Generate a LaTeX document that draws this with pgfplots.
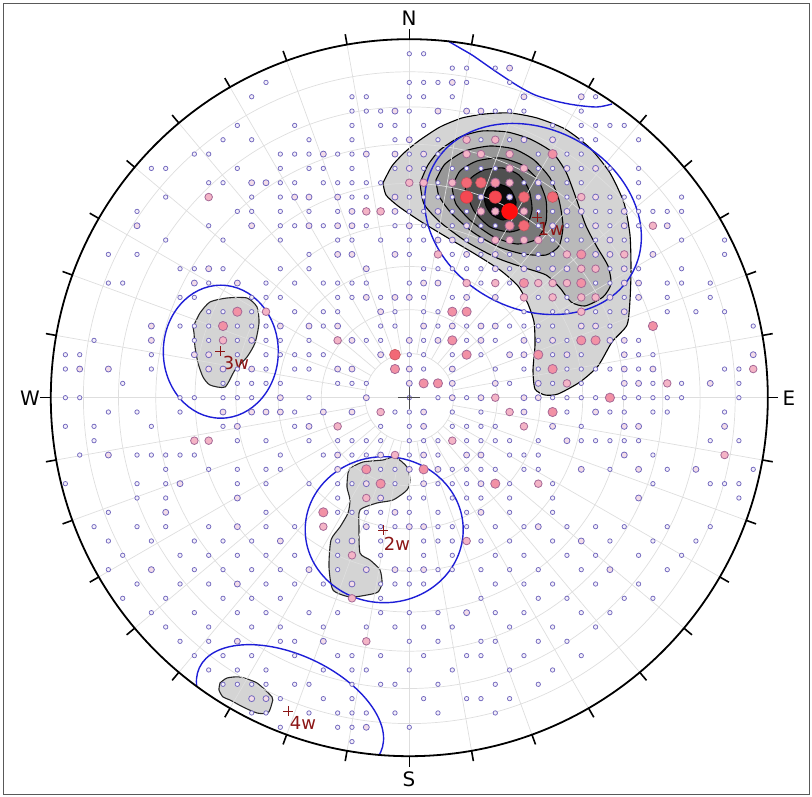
\documentclass[border=0pt]{standalone}
\usepackage{pgfplots}
\pgfplotsset{compat=1.18}
\usepackage{pgfplotstable}
\usepackage{fontspec}
\setmainfont{DejaVu Sans}
\definecolor{pedge}{RGB}{115,105,190}
\definecolor{pedge2}{RGB}{165,105,150}
\definecolor{pf1}{RGB}{244,240,250}
\definecolor{pf2}{RGB}{243,220,232}
\definecolor{pf3}{RGB}{244,180,198}
\definecolor{pf4}{RGB}{242,145,165}
\definecolor{pf5}{RGB}{242,105,118}
\definecolor{pf6}{RGB}{245,72,82}
\definecolor{pf7}{RGB}{255,15,15}
\definecolor{gridc}{RGB}{222,222,222}
\definecolor{winblue}{RGB}{30,30,215}
\definecolor{setred}{RGB}{140,22,22}
\definecolor{c1}{RGB}{212,212,212}
\definecolor{c2}{RGB}{186,186,186}
\definecolor{c3}{RGB}{152,152,152}
\definecolor{c4}{RGB}{120,120,120}
\definecolor{c5}{RGB}{80,80,80}
\definecolor{c6}{RGB}{12,12,12}

\pgfplotstableread[row sep=\\]{
i j s\\
0 -24 1\\ 1 -24 1\\
3 -23 1\\ 4 -23 1\\ 6 -23 1\\ 7 -23 2\\
-10 -22 1\\ 0 -22 1\\ 1 -22 1\\ 2 -22 1\\ 3 -22 2\\ 4 -22 1\\ 7 -22 1\\
-11 -21 1\\ -4 -21 1\\ -3 -21 1\\ 0 -21 1\\ 1 -21 1\\ 3 -21 1\\ 8 -21 2\\ 12 -21 2\\ 13 -21 1\\
-4 -20 1\\ -3 -20 1\\ -2 -20 1\\ -1 -20 2\\ 0 -20 1\\ 2 -20 2\\ 4 -20 2\\ 5 -20 2\\ 6 -20 1\\ 7 -20 1\\ 8 -20 1\\ 12 -20 1\\
-12 -19 1\\ -8 -19 1\\ -4 -19 1\\ -2 -19 1\\ -1 -19 1\\ 1 -19 1\\ 10 -19 1\\ 12 -19 1\\ 13 -19 1\\ 14 -19 1\\ 15 -19 1\\
-13 -18 1\\ -11 -18 1\\ -7 -18 1\\ -4 -18 1\\ -1 -18 1\\ 0 -18 2\\ 2 -18 1\\ 4 -18 3\\ 5 -18 1\\ 6 -18 3\\ 7 -18 1\\ 8 -18 2\\ 10 -18 2\\ 12 -18 1\\ 13 -18 1\\ 16 -18 1\\
-15 -17 1\\ -14 -17 1\\ -9 -17 1\\ -8 -17 1\\ -7 -17 1\\ -6 -17 2\\ -5 -17 1\\ -4 -17 1\\ -3 -17 2\\ -1 -17 2\\ 0 -17 1\\ 1 -17 2\\ 2 -17 1\\ 4 -17 3\\ 5 -17 3\\ 7 -17 3\\ 9 -17 1\\ 10 -17 4\\ 11 -17 1\\ 12 -17 1\\
-18 -16 1\\ -17 -16 1\\ -12 -16 1\\ -9 -16 1\\ -7 -16 1\\ -6 -16 1\\ -4 -16 1\\ -1 -16 1\\ 0 -16 2\\ 1 -16 1\\ 2 -16 1\\ 3 -16 1\\ 4 -16 1\\ 5 -16 1\\ 6 -16 1\\ 7 -16 3\\ 8 -16 3\\ 9 -16 1\\ 10 -16 1\\ 11 -16 2\\ 12 -16 1\\ 13 -16 2\\ 14 -16 1\\ 16 -16 1\\
-14 -15 1\\ -13 -15 1\\ -11 -15 2\\ -10 -15 2\\ -9 -15 1\\ -8 -15 1\\ -6 -15 1\\ -5 -15 1\\ -4 -15 1\\ -3 -15 1\\ -2 -15 1\\ 0 -15 3\\ 1 -15 3\\ 2 -15 1\\ 3 -15 3\\ 4 -15 5\\ 5 -15 5\\ 6 -15 4\\ 7 -15 3\\ 8 -15 1\\ 9 -15 2\\ 10 -15 1\\ 11 -15 1\\ 12 -15 1\\ 16 -15 1\\
-17 -14 1\\ -14 -14 3\\ -11 -14 1\\ -9 -14 1\\ -8 -14 2\\ -7 -14 2\\ -5 -14 2\\ -4 -14 1\\ -3 -14 1\\ -1 -14 2\\ 0 -14 1\\ 1 -14 1\\ 2 -14 1\\ 3 -14 1\\ 4 -14 6\\ 5 -14 2\\ 6 -14 6\\ 7 -14 2\\ 8 -14 5\\ 9 -14 2\\ 10 -14 5\\ 11 -14 1\\ 12 -14 3\\ 13 -14 2\\ 14 -14 1\\ 15 -14 1\\ 16 -14 1\\ 19 -14 1\\
-19 -13 1\\ -12 -13 1\\ -11 -13 1\\ -9 -13 1\\ -7 -13 1\\ -5 -13 1\\ -4 -13 2\\ -3 -13 3\\ -2 -13 3\\ -1 -13 2\\ 0 -13 1\\ 1 -13 1\\ 2 -13 2\\ 3 -13 1\\ 4 -13 1\\ 5 -13 3\\ 6 -13 3\\ 8 -13 3\\ 9 -13 1\\ 10 -13 1\\ 11 -13 2\\ 12 -13 2\\ 13 -13 1\\ 14 -13 1\\ 15 -13 2\\ 16 -13 1\\ 17 -13 1\\ 18 -13 1\\ 19 -13 1\\
-19 -12 2\\ -14 -12 1\\ -11 -12 2\\ -9 -12 1\\ -8 -12 1\\ -7 -12 2\\ -6 -12 1\\ -5 -12 2\\ -4 -12 2\\ -3 -12 1\\ -1 -12 1\\ 0 -12 2\\ 1 -12 1\\ 2 -12 1\\ 3 -12 1\\ 4 -12 2\\ 5 -12 1\\ 6 -12 1\\ 7 -12 4\\ 8 -12 5\\ 9 -12 1\\ 10 -12 2\\ 11 -12 1\\ 12 -12 1\\ 13 -12 2\\ 14 -12 1\\ 15 -12 2\\ 16 -12 1\\ 17 -12 3\\ 18 -12 2\\
-17 -11 1\\ -13 -11 1\\ -9 -11 1\\ -5 -11 1\\ -4 -11 1\\ -2 -11 1\\ 0 -11 1\\ 1 -11 1\\ 2 -11 2\\ 3 -11 2\\ 4 -11 1\\ 5 -11 2\\ 6 -11 3\\ 7 -11 3\\ 8 -11 3\\ 9 -11 3\\ 10 -11 1\\ 11 -11 1\\ 12 -11 1\\ 13 -11 1\\ 14 -11 2\\ 15 -11 1\\ 19 -11 1\\ 22 -11 1\\
-21 -10 1\\ -19 -10 1\\ -7 -10 1\\ -5 -10 2\\ -4 -10 2\\ -1 -10 2\\ 0 -10 1\\ 2 -10 3\\ 3 -10 1\\ 4 -10 2\\ 5 -10 1\\ 6 -10 2\\ 7 -10 1\\ 8 -10 1\\ 9 -10 1\\ 10 -10 1\\ 11 -10 3\\ 12 -10 4\\ 13 -10 2\\ 14 -10 2\\ 15 -10 3\\ 17 -10 2\\ 22 -10 1\\
-16 -9 1\\ -15 -9 1\\ -14 -9 2\\ -13 -9 1\\ -9 -9 1\\ -7 -9 1\\ -3 -9 2\\ 1 -9 1\\ 2 -9 1\\ 3 -9 1\\ 4 -9 1\\ 5 -9 1\\ 6 -9 2\\ 7 -9 1\\ 8 -9 2\\ 9 -9 1\\ 10 -9 2\\ 11 -9 2\\ 12 -9 3\\ 13 -9 3\\ 14 -9 1\\ 15 -9 2\\ 16 -9 1\\ 19 -9 1\\
-21 -8 1\\ -20 -8 1\\ -15 -8 2\\ -14 -8 1\\ -12 -8 2\\ -10 -8 1\\ -8 -8 1\\ -6 -8 1\\ -5 -8 1\\ -4 -8 1\\ -3 -8 1\\ 0 -8 1\\ 1 -8 2\\ 2 -8 2\\ 4 -8 3\\ 5 -8 1\\ 6 -8 3\\ 7 -8 1\\ 8 -8 4\\ 9 -8 3\\ 10 -8 3\\ 11 -8 3\\ 12 -8 4\\ 13 -8 1\\ 14 -8 1\\ 15 -8 2\\ 16 -8 2\\ 18 -8 1\\ 19 -8 1\\ 21 -8 1\\
-16 -7 1\\ -15 -7 1\\ -11 -7 1\\ -10 -7 1\\ -9 -7 1\\ -5 -7 1\\ -4 -7 1\\ -3 -7 2\\ -2 -7 1\\ -1 -7 2\\ 0 -7 2\\ 1 -7 1\\ 3 -7 1\\ 4 -7 2\\ 6 -7 2\\ 8 -7 3\\ 9 -7 1\\ 10 -7 3\\ 11 -7 1\\ 12 -7 3\\ 13 -7 3\\ 14 -7 2\\ 15 -7 1\\ 16 -7 2\\ 18 -7 1\\ 21 -7 1\\
-14 -6 1\\ -13 -6 1\\ -12 -6 4\\ -11 -6 1\\ -10 -6 3\\ -8 -6 1\\ -6 -6 1\\ -5 -6 1\\ -2 -6 2\\ -1 -6 1\\ 1 -6 1\\ 2 -6 1\\ 3 -6 4\\ 4 -6 4\\ 8 -6 1\\ 10 -6 1\\ 11 -6 1\\ 12 -6 3\\ 13 -6 1\\ 14 -6 1\\ 15 -6 2\\ 18 -6 1\\ 20 -6 1\\ 22 -6 1\\
-18 -5 2\\ -16 -5 1\\ -15 -5 1\\ -14 -5 1\\ -13 -5 4\\ -12 -5 1\\ -11 -5 1\\ -10 -5 1\\ -9 -5 2\\ -7 -5 2\\ -6 -5 1\\ -5 -5 2\\ -2 -5 1\\ -1 -5 1\\ 1 -5 2\\ 2 -5 1\\ 3 -5 2\\ 4 -5 1\\ 5 -5 2\\ 6 -5 2\\ 7 -5 1\\ 8 -5 1\\ 9 -5 1\\ 10 -5 1\\ 12 -5 2\\ 13 -5 2\\ 14 -5 1\\ 17 -5 4\\ 24 -5 1\\
-22 -4 1\\ -18 -4 2\\ -15 -4 1\\ -14 -4 1\\ -13 -4 3\\ -12 -4 1\\ -11 -4 2\\ -10 -4 1\\ -9 -4 1\\ -7 -4 1\\ -5 -4 3\\ -4 -4 2\\ -3 -4 1\\ -2 -4 1\\ 0 -4 2\\ 1 -4 1\\ 2 -4 2\\ 3 -4 4\\ 4 -4 1\\ 5 -4 2\\ 6 -4 1\\ 8 -4 2\\ 9 -4 1\\ 10 -4 2\\ 11 -4 1\\ 12 -4 4\\ 13 -4 4\\ 14 -4 2\\ 15 -4 2\\ 16 -4 1\\
-24 -3 1\\ -23 -3 1\\ -18 -3 1\\ -15 -3 2\\ -14 -3 2\\ -12 -3 1\\ -10 -3 1\\ -9 -3 1\\ -8 -3 1\\ -7 -3 1\\ -6 -3 1\\ -2 -3 2\\ -1 -3 5\\ 0 -3 1\\ 1 -3 1\\ 3 -3 1\\ 4 -3 4\\ 5 -3 1\\ 7 -3 2\\ 8 -3 2\\ 9 -3 4\\ 10 -3 1\\ 11 -3 2\\ 12 -3 1\\ 15 -3 2\\ 16 -3 1\\ 17 -3 1\\ 24 -3 2\\
-24 -2 1\\ -23 -2 2\\ -21 -2 2\\ -18 -2 1\\ -14 -2 2\\ -13 -2 2\\ -12 -2 1\\ -11 -2 2\\ -10 -2 1\\ -8 -2 1\\ -7 -2 1\\ -5 -2 2\\ -4 -2 2\\ -1 -2 4\\ 0 -2 2\\ 1 -2 1\\ 3 -2 2\\ 6 -2 1\\ 8 -2 1\\ 9 -2 1\\ 10 -2 4\\ 11 -2 1\\ 12 -2 1\\ 13 -2 1\\ 14 -2 1\\ 15 -2 2\\ 16 -2 1\\ 17 -2 2\\ 22 -2 1\\ 23 -2 1\\ 24 -2 3\\
-20 -1 1\\ -13 -1 1\\ -12 -1 1\\ -11 -1 1\\ -10 -1 1\\ -9 -1 1\\ -5 -1 1\\ -4 -1 1\\ -3 -1 1\\ 0 -1 2\\ 1 -1 4\\ 2 -1 4\\ 3 -1 2\\ 6 -1 2\\ 7 -1 1\\ 9 -1 2\\ 10 -1 1\\ 11 -1 3\\ 12 -1 1\\ 15 -1 2\\ 16 -1 2\\ 17 -1 1\\ 18 -1 3\\ 19 -1 1\\ 21 -1 2\\ 23 -1 1\\
-24 0 1\\ -23 0 1\\ -16 0 1\\ -15 0 1\\ -13 0 1\\ -12 0 1\\ -11 0 1\\ -9 0 2\\ -7 0 1\\ -3 0 2\\ 0 0 1\\ 2 0 1\\ 3 0 2\\ 4 0 1\\ 5 0 2\\ 6 0 3\\ 8 0 2\\ 9 0 2\\ 10 0 1\\ 11 0 1\\ 12 0 1\\ 13 0 1\\ 14 0 4\\ 15 0 1\\ 16 0 1\\ 17 0 1\\ 18 0 1\\ 19 0 1\\ 23 0 1\\
-21 1 1\\ -19 1 1\\ -16 1 1\\ -13 1 2\\ -11 1 2\\ -10 1 2\\ -9 1 2\\ -8 1 1\\ -6 1 2\\ -4 1 2\\ -2 1 3\\ -1 1 1\\ 0 1 1\\ 1 1 2\\ 3 1 1\\ 5 1 1\\ 7 1 3\\ 8 1 2\\ 10 1 4\\ 11 1 1\\ 13 1 2\\ 14 1 1\\ 15 1 1\\ 17 1 1\\ 18 1 1\\ 22 1 1\\
-24 2 1\\ -22 2 1\\ -18 2 1\\ -13 2 1\\ -12 2 2\\ -8 2 1\\ -7 2 2\\ -5 2 3\\ -2 2 1\\ 0 2 1\\ 1 2 2\\ 3 2 1\\ 4 2 1\\ 5 2 1\\ 6 2 1\\ 8 2 3\\ 10 2 2\\ 12 2 1\\ 15 2 2\\ 16 2 2\\ 22 2 2\\
-22 3 1\\ -15 3 3\\ -14 3 3\\ -12 3 1\\ -10 3 1\\ -7 3 1\\ -5 3 1\\ -4 3 1\\ -3 3 1\\ -2 3 1\\ 0 3 1\\ 1 3 1\\ 2 3 1\\ 3 3 3\\ 4 3 1\\ 5 3 1\\ 6 3 1\\ 7 3 1\\ 9 3 1\\ 11 3 2\\ 12 3 1\\ 13 3 1\\ 14 3 1\\ 15 3 1\\ 16 3 1\\ 21 3 1\\ 23 3 1\\
-23 4 1\\ -21 4 2\\ -19 4 1\\ -18 4 1\\ -17 4 1\\ -16 4 1\\ -15 4 1\\ -9 4 1\\ -6 4 1\\ -5 4 2\\ -4 4 1\\ -3 4 1\\ -2 4 2\\ -1 4 3\\ 0 4 1\\ 1 4 2\\ 2 4 1\\ 4 4 2\\ 5 4 2\\ 7 4 1\\ 8 4 1\\ 9 4 1\\ 15 4 2\\ 17 4 1\\ 22 4 3\\
-17 5 1\\ -14 5 1\\ -12 5 1\\ -10 5 1\\ -9 5 1\\ -5 5 2\\ -3 5 4\\ -2 5 1\\ -1 5 1\\ 0 5 2\\ 1 5 4\\ 2 5 2\\ 3 5 1\\ 4 5 1\\ 5 5 1\\ 6 5 1\\ 8 5 1\\ 9 5 1\\ 12 5 2\\ 14 5 1\\ 16 5 2\\ 18 5 1\\ 20 5 2\\ 24 5 1\\
-24 6 1\\ -19 6 1\\ -17 6 1\\ -16 6 2\\ -12 6 1\\ -10 6 1\\ -7 6 1\\ -5 6 1\\ -4 6 1\\ -3 6 2\\ -2 6 4\\ -1 6 1\\ 1 6 2\\ 2 6 1\\ 3 6 1\\ 4 6 1\\ 5 6 2\\ 6 6 4\\ 7 6 1\\ 9 6 3\\ 10 6 1\\ 17 6 1\\ 21 6 1\\ 22 6 1\\ 23 6 1\\
-19 7 1\\ -17 7 1\\ -12 7 2\\ -5 7 1\\ -3 7 3\\ -2 7 2\\ 0 7 1\\ 1 7 1\\ 3 7 1\\ 4 7 1\\ 5 7 1\\ 7 7 1\\ 10 7 1\\ 16 7 2\\ 23 7 1\\
-21 8 1\\ -17 8 2\\ -10 8 1\\ -6 8 4\\ -5 8 1\\ -4 8 1\\ -3 8 1\\ -2 8 1\\ -1 8 2\\ 0 8 1\\ 2 8 1\\ 4 8 1\\ 5 8 2\\ 7 8 1\\ 10 8 1\\
-22 9 1\\ -19 9 1\\ -17 9 1\\ -14 9 1\\ -12 9 2\\ -10 9 1\\ -8 9 1\\ -6 9 3\\ -3 9 2\\ -2 9 1\\ -1 9 1\\ 0 9 2\\ 1 9 2\\ 2 9 1\\ 3 9 1\\ 4 9 1\\ 6 9 1\\ 8 9 1\\ 9 9 2\\ 11 9 1\\ 13 9 1\\ 15 9 1\\ 18 9 1\\ 21 9 1\\
-21 10 1\\ -18 10 1\\ -15 10 1\\ -13 10 1\\ -11 10 1\\ -9 10 2\\ -5 10 1\\ -4 10 2\\ -2 10 1\\ 1 10 1\\ 2 10 1\\ 3 10 1\\ 4 10 3\\ 5 10 1\\ 7 10 1\\ 10 10 1\\ 12 10 2\\ 14 10 1\\ 17 10 1\\ 20 10 1\\
-20 11 1\\ -16 11 1\\ -14 11 1\\ -12 11 1\\ -10 11 1\\ -8 11 1\\ -5 11 1\\ -4 11 3\\ -2 11 1\\ 1 11 1\\ 3 11 1\\ 6 11 1\\ 8 11 1\\ 11 11 1\\ 13 11 1\\ 16 11 1\\ 19 11 1\\
-21 12 1\\ -18 12 2\\ -15 12 1\\ -13 12 1\\ -11 12 1\\ -9 12 1\\ -7 12 2\\ -5 12 1\\ -3 12 2\\ -1 12 2\\ 0 12 1\\ 1 12 2\\ 2 12 1\\ 3 12 1\\ 5 12 1\\ 7 12 1\\ 9 12 1\\ 12 12 1\\ 14 12 2\\ 18 12 1\\
-19 13 1\\ -16 13 1\\ -14 13 1\\ -12 13 2\\ -10 13 1\\ -8 13 1\\ -6 13 1\\ -4 13 2\\ -2 13 1\\ -1 13 1\\ 0 13 1\\ 1 13 1\\ 6 13 1\\ 8 13 1\\ 10 13 1\\ 13 13 1\\ 16 13 1\\
-20 14 1\\ -17 14 1\\ -13 14 1\\ -11 14 1\\ -9 14 1\\ -4 14 3\\ -2 14 1\\ 5 14 1\\ 9 14 1\\ 11 14 1\\ 15 14 1\\ 17 14 1\\
-18 15 1\\ -15 15 1\\ -12 15 1\\ -10 15 1\\ -7 15 1\\ -5 15 1\\ -2 15 1\\ 0 15 1\\ 2 15 1\\ 4 15 2\\ 6 15 1\\ 8 15 1\\ 12 15 1\\ 14 15 1\\
-17 16 1\\ -14 16 1\\ -11 16 1\\ -9 16 1\\ -6 16 1\\ -3 16 1\\ -1 16 1\\ 1 16 1\\ 3 16 1\\ 7 16 1\\ 10 16 1\\ 13 16 1\\
-16 17 1\\ -14 17 1\\ -12 17 2\\ -9 17 1\\ -8 17 1\\ -6 17 2\\ -3 17 3\\ 0 17 1\\ 2 17 1\\ 5 17 1\\ 6 17 1\\ 9 17 1\\ 11 17 1\\
-15 18 1\\ -13 18 1\\ -11 18 1\\ -8 18 1\\ -5 18 1\\ -4 18 1\\ -2 18 1\\ 1 18 1\\ 4 18 1\\ 5 18 1\\ 8 18 1\\ 12 18 1\\
-14 19 1\\ -12 19 1\\ -10 19 1\\ -6 19 1\\ -4 19 1\\ -3 19 1\\ 0 19 1\\ 3 19 1\\ 7 19 1\\ 10 19 1\\
-13 20 1\\ -12 20 1\\ -11 20 1\\ -10 20 1\\ -8 20 1\\ -7 20 1\\ -4 20 1\\ -2 20 1\\ -1 20 1\\ 2 20 1\\ 6 20 1\\ 9 20 1\\
-11 21 2\\ -10 21 2\\ -9 21 1\\ -6 21 1\\ -4 21 1\\ 1 21 1\\ 4 21 1\\ 5 21 1\\ 7 21 1\\
-11 22 1\\ -10 22 1\\ -7 22 1\\ -5 22 1\\ -4 22 1\\ -3 22 1\\ -1 22 1\\ 2 22 1\\ 6 22 1\\
-9 23 1\\ -5 23 1\\ -4 23 1\\ -3 23 2\\ 0 23 1\\
-4 24 1\\
7 -13 7\\
}\pts

\begin{document}
\begin{tikzpicture}
\begin{axis}[x=1bp, y=1bp, xmin=0, xmax=812, ymin=-797, ymax=0,
  hide axis, clip=false, scale only axis]
\path (axis cs:0,0) rectangle (axis cs:812,-797);
% contours
\addplot[fill=c1, draw=black, line width=1.1bp, smooth, tension=0.4] coordinates {(383,-183) (392,-166) (405,-152) (420,-140) (440,-127) (462,-118) (485,-114) (510,-113) (537,-118) (565,-129) (590,-148) (610,-173) (624,-203) (630,-235) (631,-270) (630,-300) (627,-325) (612,-342) (598,-366) (580,-382) (558,-394) (545,-395) (535,-389) (533,-370) (535,-345) (534,-322) (528,-304) (518,-286) (500,-270) (475,-254) (448,-238) (420,-221) (398,-206) (386,-195) (383,-183)} -- cycle;
\addplot[fill=c2, draw=black, line width=1.1bp, smooth, tension=0.4] coordinates {(420,-183) (428,-165) (440,-150) (460,-137) (482,-131) (507,-132) (530,-139) (552,-152) (566,-172) (576,-198) (586,-226) (597,-247) (608,-266) (611,-284) (603,-297) (585,-306) (571,-302) (560,-288) (546,-275) (522,-267) (497,-258) (467,-242) (440,-222) (424,-204) (420,-183)} -- cycle;
\addplot[fill=c3, draw=black, line width=1.1bp, smooth, tension=0.4] coordinates {(436,-180) (445,-164) (465,-151) (490,-146) (514,-149) (534,-160) (550,-178) (559,-200) (563,-226) (559,-246) (546,-255) (523,-254) (499,-247) (474,-233) (452,-214) (439,-196) (436,-180)} -- cycle;
\addplot[fill=c4, draw=black, line width=1.1bp, smooth, tension=0.4] coordinates {(452,-187) (460,-171) (477,-161) (500,-158) (522,-165) (538,-180) (546,-200) (546,-222) (537,-239) (517,-244) (494,-237) (471,-221) (456,-204) (452,-187)} -- cycle;
\addplot[fill=c5, draw=black, line width=1.1bp, smooth, tension=0.4] coordinates {(465,-190) (471,-178) (484,-170) (503,-168) (519,-175) (529,-190) (532,-210) (526,-226) (510,-232) (490,-227) (474,-211) (465,-190)} -- cycle;
\addplot[fill=c6, draw=black, line width=1.1bp, smooth, tension=0.4] coordinates {(484,-197) (488,-188) (498,-184) (510,-189) (516,-202) (513,-215) (503,-220) (492,-215) (486,-206) (484,-197)} -- cycle;
\addplot[fill=c1, draw=black!85, line width=1.1bp, smooth, tension=0.4] coordinates {(193,-327) (200,-313) (210,-302) (227,-298) (247,-298) (257,-307) (259,-323) (255,-343) (247,-357) (235,-370) (225,-387) (210,-385) (203,-377) (198,-363) (195,-347) (194,-333) (193,-327)} -- cycle;
\addplot[fill=c1, draw=black!85, line width=1.1bp, smooth, tension=0.4] coordinates {(350,-468) (363,-462) (383,-460) (395,-457) (407,-467) (410,-480) (407,-490) (393,-500) (377,-503) (360,-510) (359,-527) (360,-553) (370,-560) (380,-570) (382,-583) (378,-592) (367,-595) (350,-597) (333,-590) (329,-567) (331,-540) (340,-527) (348,-513) (350,-500) (347,-487) (348,-473) (350,-468)} -- cycle;
\addplot[fill=c1, draw=black!85, line width=1.1bp, smooth, tension=0.4] coordinates {(220,-683) (227,-678) (240,-677) (257,-683) (272,-697) (272,-703) (268,-713) (257,-713) (243,-707) (230,-700) (223,-697) (219,-690) (220,-683)} -- cycle;
% polar grid
\foreach \r in {44.2,88.0,131.2,173.4,214.3,253.5,290.8,325.9}{
  \edef\temp{\noexpand\draw[gridc, line width=0.7bp] (axis cs:409.3,-397.7) circle [radius=\r bp];}\temp
}
\pgfplotsinvokeforeach{0,10,...,350}{
  \draw[gridc, line width=0.7bp] (axis cs:{409.3+44.2*cos(#1)},{-397.7+44.2*sin(#1)}) -- (axis cs:{409.3+358.5*cos(#1)},{-397.7+358.5*sin(#1)});
}
\draw[gridc, line width=0.7bp] (axis cs:365,-397.7) -- (axis cs:453.5,-397.7);
\draw[gridc, line width=0.7bp] (axis cs:409.3,-353.5) -- (axis cs:409.3,-442);
% windows
\draw[winblue, line width=1.4bp, rotate around={-28:(axis cs:533,-219)}] (axis cs:533,-219) ellipse [x radius=113bp, y radius=90bp];
\draw[winblue, line width=1.4bp] (axis cs:220.8,-351.7) ellipse [x radius=57.5bp, y radius=66.5bp];
\draw[winblue, line width=1.4bp] (axis cs:384.2,-529.7) ellipse [x radius=79bp, y radius=73bp];
\begin{scope}
\clip (axis cs:409.3,-397.7) circle [radius=358.5bp];
\draw[winblue, line width=1.4bp, rotate around={-25:(axis cs:290,-710)}] (axis cs:290,-710) ellipse [x radius=100bp, y radius=55bp];
\end{scope}
\addplot[winblue, line width=1.4bp, smooth, tension=0.5] coordinates {(448,-41) (460,-48) (472,-55) (485,-64) (498,-73) (518,-86) (535,-95) (555,-101) (575,-105) (597,-107) (612,-104)};
% poles
\addplot[scatter, only marks, scatter src=explicit symbolic,
  scatter/classes={
    1={mark=*, mark size=2.2bp, draw=pedge, fill=pf1, line width=0.75bp},
    2={mark=*, mark size=3.0bp, draw=pedge, fill=pf2, line width=0.8bp},
    3={mark=*, mark size=3.8bp, draw=pedge2, fill=pf3, line width=0.8bp},
    4={mark=*, mark size=4.6bp, draw=pedge2, fill=pf4, line width=0.8bp},
    5={mark=*, mark size=5.4bp, draw=pf5!80!black, fill=pf5, line width=0.6bp},
    6={mark=*, mark size=6.2bp, draw=pf6!85!black, fill=pf6, line width=0.6bp},
    7={mark=*, mark size=8.0bp, draw=pf7, fill=pf7, line width=0.5bp}}]
  table[x expr={409.3+14.33*\thisrow{i}}, y expr={-397.7-14.33*\thisrow{j}}, meta=s] {\pts};
% centre cross
\addplot[only marks, mark=+, mark size=11bp, black!70, line width=0.9bp] coordinates {(409.3,-397.7)};
% set means
\addplot[only marks, mark=+, mark size=5bp, setred, line width=0.8bp] coordinates {(537,-217) (220,-351) (383,-530) (288,-711)};
\node[setred, font=\fontsize{18}{20}\selectfont] at (axis cs:551,-229) {1w};
\node[setred, font=\fontsize{18}{20}\selectfont] at (axis cs:236,-363) {3w};
\node[setred, font=\fontsize{18}{20}\selectfont] at (axis cs:397,-544) {2w};
\node[setred, font=\fontsize{18}{20}\selectfont] at (axis cs:303,-723) {4w};
% primitive
\draw[black, line width=1.8bp] (axis cs:409.3,-397.7) circle [radius=358.5bp];
\pgfplotsinvokeforeach{0,10,...,350}{
  \draw[black, line width=1.6bp] (axis cs:{409.3+358.5*cos(#1)},{-397.7+358.5*sin(#1)}) -- (axis cs:{409.3+369*cos(#1)},{-397.7+369*sin(#1)});
}
\node[font=\fontsize{20}{24}\selectfont] at (axis cs:409,-18) {N};
\node[font=\fontsize{20}{24}\selectfont] at (axis cs:409,-779) {S};
\node[font=\fontsize{20}{24}\selectfont] at (axis cs:30,-398) {W};
\node[font=\fontsize{20}{24}\selectfont] at (axis cs:789,-398) {E};
\draw[black!65, line width=1bp] (axis cs:3.5,-4) rectangle (axis cs:809,-795);
\end{axis}
\end{tikzpicture}
\end{document}
